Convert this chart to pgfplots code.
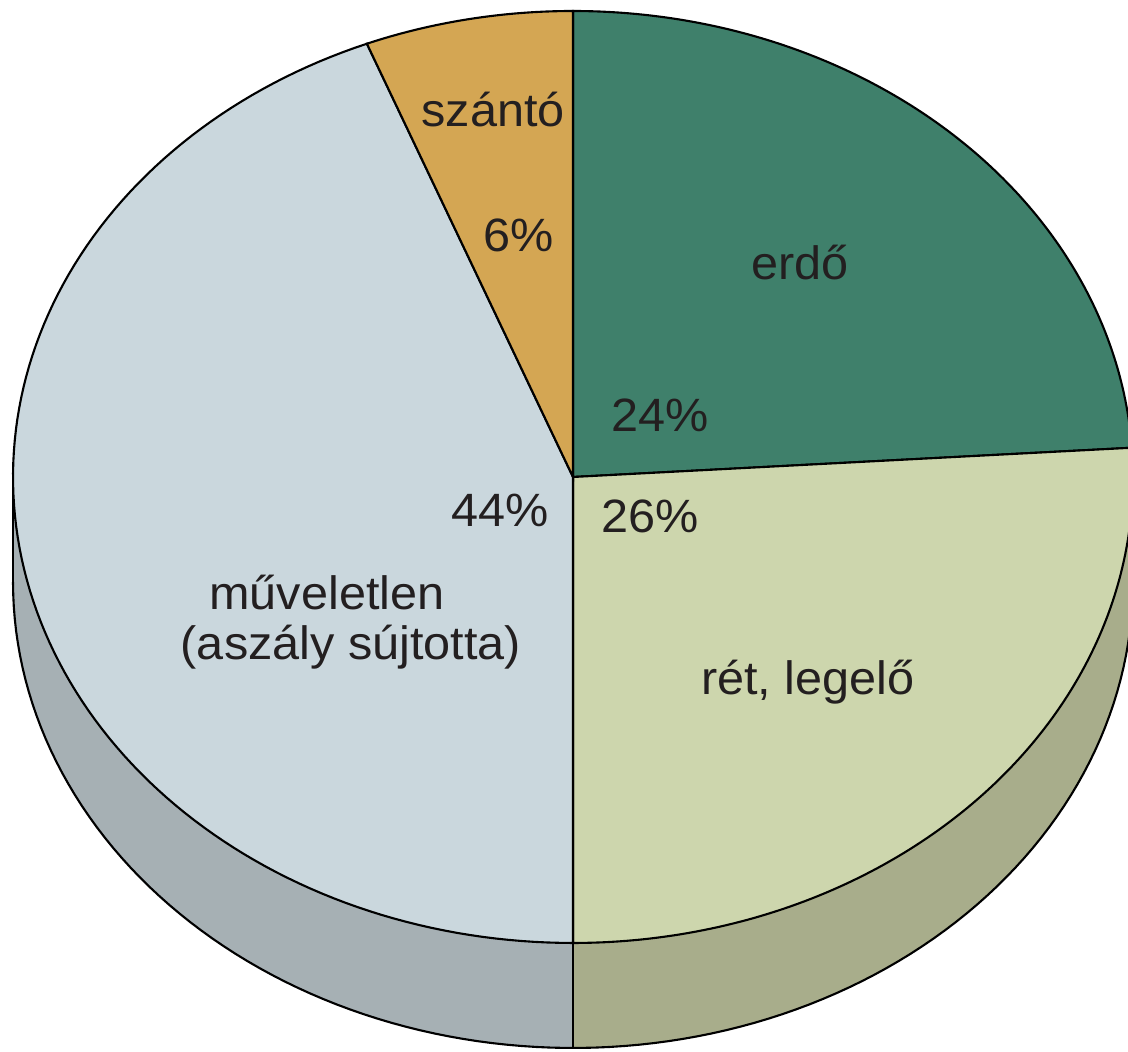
\documentclass[border=0pt]{standalone}
\usepackage{fontspec}
\setmainfont{Liberation Sans}
\usepackage{pgfplots}
\pgfplotsset{compat=1.18}

\definecolor{cSzanto}{HTML}{D4A653}
\definecolor{cErdo}{HTML}{3F806B}
\definecolor{cRet}{HTML}{CDD6AD}
\definecolor{cRetS}{HTML}{A8AD8B}
\definecolor{cMuv}{HTML}{CAD7DD}
\definecolor{cMuvS}{HTML}{A6B0B4}
\definecolor{txt}{HTML}{231F20}

\tikzset{lbl/.style={font=\fontsize{13.3}{16}\selectfont, text=txt, anchor=base, inner sep=0pt, xscale=1.04}}

% shares (%), clockwise from 12 o'clock
\def\pErdo{24}
\def\pRet{26}
\def\pMuv{44}
\def\pSzanto{6}

\begin{document}
\begin{tikzpicture}
  \pgfmathsetmacro\aA{90}
  \pgfmathsetmacro\aB{\aA-3.6*\pErdo}
  \pgfmathsetmacro\aC{\aB-3.6*\pRet}
  \pgfmathsetmacro\aD{\aC-3.6*\pMuv}
  \pgfmathsetmacro\aE{\aD-3.6*\pSzanto}
  \begin{axis}[
    scale only axis, width=112.8mm, height=105.2mm,
    xmin=0, xmax=1128, ymin=0, ymax=1052, y dir=reverse,
    hide axis,
    samples=120,
  ]
    \addplot[draw=none] coordinates {(0,0) (1128,1052)};
    % side walls
    \addplot[fill=cRetS, draw=none, domain=\aC:0]
      ({573+560*cos(x)}, {582-466*sin(x)}) -- (axis cs:1133,477) -- (axis cs:573,477) -- cycle;
    \addplot[fill=cMuvS, draw=none, domain=180:270]
      ({573+560*cos(x)}, {582-466*sin(x)}) -- (axis cs:573,477) -- (axis cs:13,477) -- cycle;
    % top face
    \addplot[fill=cErdo, draw=black, line width=0.6pt, domain=\aB:\aA]
      ({573+560*cos(x)}, {477-466*sin(x)}) -- (axis cs:573,477) -- cycle;
    \addplot[fill=cRet, draw=black, line width=0.6pt, domain=\aC:\aB]
      ({573+560*cos(x)}, {477-466*sin(x)}) -- (axis cs:573,477) -- cycle;
    \addplot[fill=cMuv, draw=black, line width=0.6pt, domain=\aD:\aC]
      ({573+560*cos(x)}, {477-466*sin(x)}) -- (axis cs:573,477) -- cycle;
    \addplot[fill=cSzanto, draw=black, line width=0.6pt, domain=\aE:\aD]
      ({573+560*cos(x)}, {477-466*sin(x)}) -- (axis cs:573,477) -- cycle;
    % outline of the wall
    \addplot[black, line width=0.6pt, domain=180:360]
      ({573+560*cos(x)}, {582-466*sin(x)});
    \addplot[black, line width=0.6pt] coordinates {(13,477) (13,582)};
    \addplot[black, line width=0.6pt] coordinates {(1133,477) (1133,582)};
    \addplot[black, line width=0.6pt] coordinates {(573,943) (573,1048)};
    % labels
    \node[lbl] at (axis cs:493,127) {szántó};
    \node[lbl] at (axis cs:519,252) {6\%};
    \node[lbl] at (axis cs:800,280) {erdő};
    \node[lbl] at (axis cs:660,432) {24\%};
    \node[lbl] at (axis cs:650,533) {26\%};
    \node[lbl] at (axis cs:500,527) {44\%};
    \node[lbl] at (axis cs:327,610) {műveletlen};
    \node[lbl] at (axis cs:351,660) {(aszály sújtotta)};
    \node[lbl] at (axis cs:808,695) {rét, legelő};
  \end{axis}
\end{tikzpicture}
\end{document}
